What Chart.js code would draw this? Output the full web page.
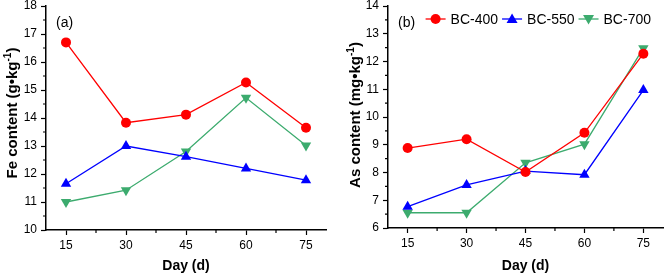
<!DOCTYPE html>
<html>
<head>
<meta charset="utf-8">
<script src="https://cdn.jsdelivr.net/npm/chart.js@4.4.1/dist/chart.umd.min.js"></script>
<style>
  html, body { margin: 0; padding: 0; background: #fff; }
  #wrap { position: relative; width: 669px; height: 275px; overflow: hidden; font-family: "Liberation Sans", Arial, sans-serif; }
  .panel { position: absolute; top: 0; height: 275px; }
  #p1 { left: 0; width: 334px; }
  #p2 { left: 334px; width: 335px; }
  .tag { position: absolute; font-size: 14px; color: #000; }
  .ytitle { position: absolute; width: 200px; margin-left: -100px; height: 18px; margin-top: -9px;
            text-align: center; font-size: 15px; font-weight: bold; color: #000; line-height: 18px;
            transform: rotate(-90deg); white-space: nowrap; }
  .ytitle sup { font-size: 10px; line-height: 0; }
</style>
</head>
<body>
<div id="wrap">
  <div class="panel" id="p1"><canvas id="feChart"></canvas></div>
  <div class="panel" id="p2"><canvas id="asChart"></canvas></div>
  <div class="tag" style="left:56px; top:14px;">(a)</div>
  <div class="tag" style="left:398px; top:14px;">(b)</div>
  <div class="ytitle" style="left:12px; top:113px;">Fe content (g•kg<sup>-1</sup>)</div>
  <div class="ytitle" style="left:355px; top:115px;">As content (mg•kg<sup>-1</sup>)</div>
</div>
<script>
// 数据
const days = [15, 30, 45, 60, 75];
const seriesNames = ['BC-400', 'BC-550', 'BC-700'];
const fe400 = [16.70, 13.83, 14.12, 15.27, 13.65];
const fe550 = [11.65, 13.00, 12.62, 12.20, 11.78];
const fe700 = [11.00, 11.42, 12.80, 14.72, 13.02];
const as400 = [8.88, 9.20, 8.02, 9.43, 12.28];
const as550 = [6.77, 7.55, 8.05, 7.92, 10.97];
const as700 = [6.55, 6.55, 8.35, 9.02, 12.48];
const feTicks = [10, 11, 12, 13, 14, 15, 16, 17, 18];
const asTicks = [6, 7, 8, 9, 10, 11, 12, 13, 14];

const colors = ['#ff0000', '#0000ff', '#3cab6e'];
const styles = ['circle', 'triangle', 'triangle'];
const rotations = [0, 0, 180];

// 画标记（图例用）
function drawMarker(ctx, i, cx, cy) {
    ctx.fillStyle = colors[i];
    ctx.beginPath();
    if (styles[i] === 'circle') {
        ctx.arc(cx, cy, 5, 0, Math.PI * 2);
    } else if (rotations[i] === 0) {
        ctx.moveTo(cx, cy - 5.5); ctx.lineTo(cx + 5.5, cy + 4); ctx.lineTo(cx - 5.5, cy + 4);
    } else {
        ctx.moveTo(cx, cy + 5.5); ctx.lineTo(cx + 5.5, cy - 4); ctx.lineTo(cx - 5.5, cy - 4);
    }
    ctx.closePath();
    ctx.fill();
}

function makeDatasets(lists) {
    return lists.map(function(vals, i) {
        return {
            label: seriesNames[i],
            data: days.map(function(d, k) { return { x: d, y: vals[k] }; }),
            borderColor: colors[i],
            backgroundColor: colors[i],
            borderWidth: 1.3,
            pointStyle: styles[i],
            rotation: rotations[i],
            pointRadius: styles[i] === 'circle' ? 5 : 6,
            pointBorderWidth: 0,
            tension: 0
        };
    });
}

// 次刻度
const minorTicks = {
    id: 'minorTicks',
    afterDraw: function(chart, args, pluginOpts) {
        const ctx = chart.ctx;
        const xs = chart.scales.x, ys = chart.scales.y;
        const yt = pluginOpts.yTicks || [];
        ctx.save();
        ctx.strokeStyle = '#000';
        ctx.lineWidth = 1.2;
        ctx.beginPath();
        for (let k = 0; k < days.length - 1; k++) {
            const px = xs.getPixelForValue((days[k] + days[k + 1]) / 2);
            ctx.moveTo(px, ys.bottom); ctx.lineTo(px, ys.bottom + 3);
        }
        for (let k = 0; k < yt.length - 1; k++) {
            const py = ys.getPixelForValue((yt[k] + yt[k + 1]) / 2);
            ctx.moveTo(xs.left, py); ctx.lineTo(xs.left - 3, py);
        }
        ctx.stroke();
        ctx.restore();
    }
};

// 图内图例（线 + 标记 + 文字）
const insideLegend = {
    id: 'insideLegend',
    afterDraw: function(chart, args, pluginOpts) {
        if (!pluginOpts.show) return;
        const ctx = chart.ctx;
        const area = chart.chartArea;
        ctx.save();
        ctx.font = '14px "Liberation Sans", Arial, sans-serif';
        ctx.textBaseline = 'middle';
        const lineW = 20, gapText = 5, gapItem = 4;
        let total = 0;
        seriesNames.forEach(function(n, i) {
            total += lineW + gapText + ctx.measureText(n).width + (i ? gapItem : 0);
        });
        let x = area.right - 12 - total;
        const y = area.top + 13;
        seriesNames.forEach(function(n, i) {
            ctx.strokeStyle = colors[i];
            ctx.lineWidth = 1.3;
            ctx.beginPath(); ctx.moveTo(x, y); ctx.lineTo(x + lineW, y); ctx.stroke();
            drawMarker(ctx, i, x + lineW / 2, y);
            ctx.fillStyle = '#000';
            ctx.fillText(n, x + lineW + gapText, y + 1);
            x += lineW + gapText + ctx.measureText(n).width + gapItem;
        });
        ctx.restore();
    }
};

function createChart(id, lists, tickList, opts) {
    new Chart(document.getElementById(id), {
        type: 'line',
        data: { datasets: makeDatasets(lists) },
        plugins: [minorTicks, insideLegend],
        options: {
            responsive: true,
            maintainAspectRatio: false,
            animation: false,
            layout: { padding: { left: 0, right: opts.padRight, top: 5, bottom: 0 } },
            plugins: {
                tooltip: { enabled: false },
                legend: { display: false },
                minorTicks: { yTicks: tickList },
                insideLegend: { show: opts.legend }
            },
            scales: {
                x: {
                    type: 'linear',
                    min: 10, max: 80,
                    afterBuildTicks: function(scale) { scale.ticks = days.map(function(v) { return { value: v }; }); },
                    afterFit: function(scale) {
                        scale.height = opts.xHeight;
                        scale.paddingLeft = 0; scale.paddingRight = 0;
                    },
                    border: { color: '#000', width: 1.5 },
                    grid: { display: true, drawOnChartArea: false, drawTicks: true, tickLength: 5, tickColor: '#000', tickWidth: 1.2 },
                    ticks: { color: '#000', padding: 3, font: { family: 'Liberation Sans', size: 12 } },
                    title: { display: true, text: 'Day (d)', color: '#000', padding: { top: 0, bottom: 0 },
                             font: { family: 'Liberation Sans', size: 14, weight: 'bold' } }
                },
                y: {
                    min: tickList[0], max: tickList[tickList.length - 1],
                    afterBuildTicks: function(scale) { scale.ticks = tickList.map(function(v) { return { value: v }; }); },
                    afterFit: function(scale) {
                        scale.width = opts.yWidth;
                        scale.paddingTop = 0; scale.paddingBottom = 0;
                    },
                    border: { color: '#000', width: 1.5 },
                    grid: { display: true, drawOnChartArea: false, drawTicks: true, tickLength: 5, tickColor: '#000', tickWidth: 1.2 },
                    ticks: { color: '#000', padding: 4, font: { family: 'Liberation Sans', size: 12 } }
                }
            }
        }
    });
}

document.addEventListener('DOMContentLoaded', function() {
    createChart('feChart', [fe400, fe550, fe700], feTicks,
                { legend: false, padRight: 8, xHeight: 45, yWidth: 46 });
    createChart('asChart', [as400, as550, as700], asTicks,
                { legend: true, padRight: 1, xHeight: 47, yWidth: 54 });
});
</script>
</body>
</html>
